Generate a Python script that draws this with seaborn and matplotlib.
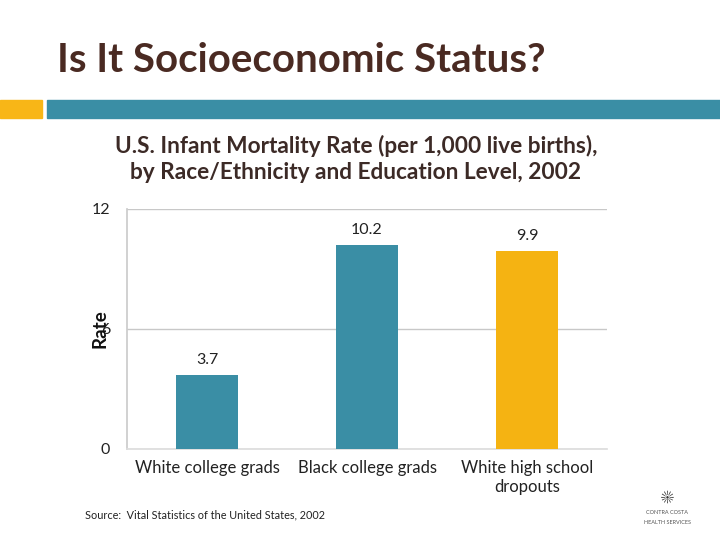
import matplotlib
matplotlib.use("Agg")
import matplotlib.pyplot as plt
from matplotlib.patches import Rectangle
import seaborn as sns
import pandas as pd

categories = ["White college grads", "Black college grads", "White high school\ndropouts"]
rates = [3.7, 10.2, 9.9]
value_labels = ["3.7", "10.2", "9.9"]
yticks = [0, 6, 12]
bar_colors = ["#3a8ea5", "#3a8ea5", "#f5b312"]

title = "Is It Socioeconomic Status?"
subtitle = "U.S. Infant Mortality Rate (per 1,000 live births),\nby Race/Ethnicity and Education Level, 2002"
source = "Source:  Vital Statistics of the United States, 2002"

sns.set_theme(style="white")
plt.rcParams['font.family'] = ['Lato', 'DejaVu Sans']

W, H = 720, 540
fig = plt.figure(figsize=(7.2, 5.4), dpi=100)
fig.patch.set_facecolor("white")

# decorative header band
fig.patches.append(Rectangle((0, 1 - 118 / H), 42 / W, 18 / H, transform=fig.transFigure,
                             color="#f8b617", zorder=0))
fig.patches.append(Rectangle((47 / W, 1 - 118 / H), 1 - 47 / W, 18 / H, transform=fig.transFigure,
                             color="#3a8ea5", zorder=0))

fig.text(57 / W, 1 - 60 / H, title, fontsize=29, fontweight="bold", color="#4a2a22",
         va="center", ha="left")
fig.text(356 / W, 1 - 159 / H, subtitle, fontsize=16.3, fontweight="bold", color="#3c2a26",
         va="center", ha="center", linespacing=1.25)
fig.text(85 / W, 1 - 515 / H, source, fontsize=7.8, color="#222222", va="center", ha="left")

# logo text
fig.text(667 / W, 1 - 512 / H, "CONTRA COSTA", fontsize=4, color="#555555", ha="center", va="center")
fig.text(667 / W, 1 - 522 / H, "HEALTH SERVICES", fontsize=4, color="#555555", ha="center", va="center")
fig.text(667 / W, 1 - 498 / H, "\u2600", fontsize=12, color="#333333", ha="center", va="center")

ax = fig.add_axes([127 / W, (H - 449) / H, 480 / W, 240 / H])
df = pd.DataFrame({"cat": categories, "rate": rates})
sns.barplot(data=df, x="cat", y="rate", hue="cat", palette=bar_colors, legend=False,
            width=0.39, ax=ax, saturation=1, edgecolor="none", zorder=3)

for i, (v, lab) in enumerate(zip(rates, value_labels)):
    ax.text(i, v + 0.4, lab, ha="center", va="bottom", fontsize=11.5, color="#222222", zorder=4)

ax.set_xlim(-0.5, 2.5)
ax.set_ylim(0, 12)
ax.set_yticks(yticks)
ax.set_yticklabels([str(t) for t in yticks], fontsize=11.5, color="#222222")
ax.tick_params(axis="y", length=0, pad=12)
ax.tick_params(axis="x", which="major", length=0, pad=8, labelsize=12, labelcolor="#222222")
ax.set_xticks([0.5, 1.5, 2.5], minor=True)
ax.tick_params(axis="x", which="minor", length=5, color="#cccccc", direction="out")
ax.set_xlabel("")
ax.set_ylabel("Rate", fontsize=13.5, fontweight="bold", color="#111111")
ax.yaxis.set_label_coords(-0.038, 0.5)

ax.grid(axis="y", color="#c8c8c8", linewidth=1, zorder=0)
ax.set_axisbelow(True)
for s in ["top", "right"]:
    ax.spines[s].set_visible(False)
ax.spines["left"].set_color("#cccccc")
ax.spines["bottom"].set_color("#dddddd")

fig.savefig("out.png", dpi=100, facecolor="white")
